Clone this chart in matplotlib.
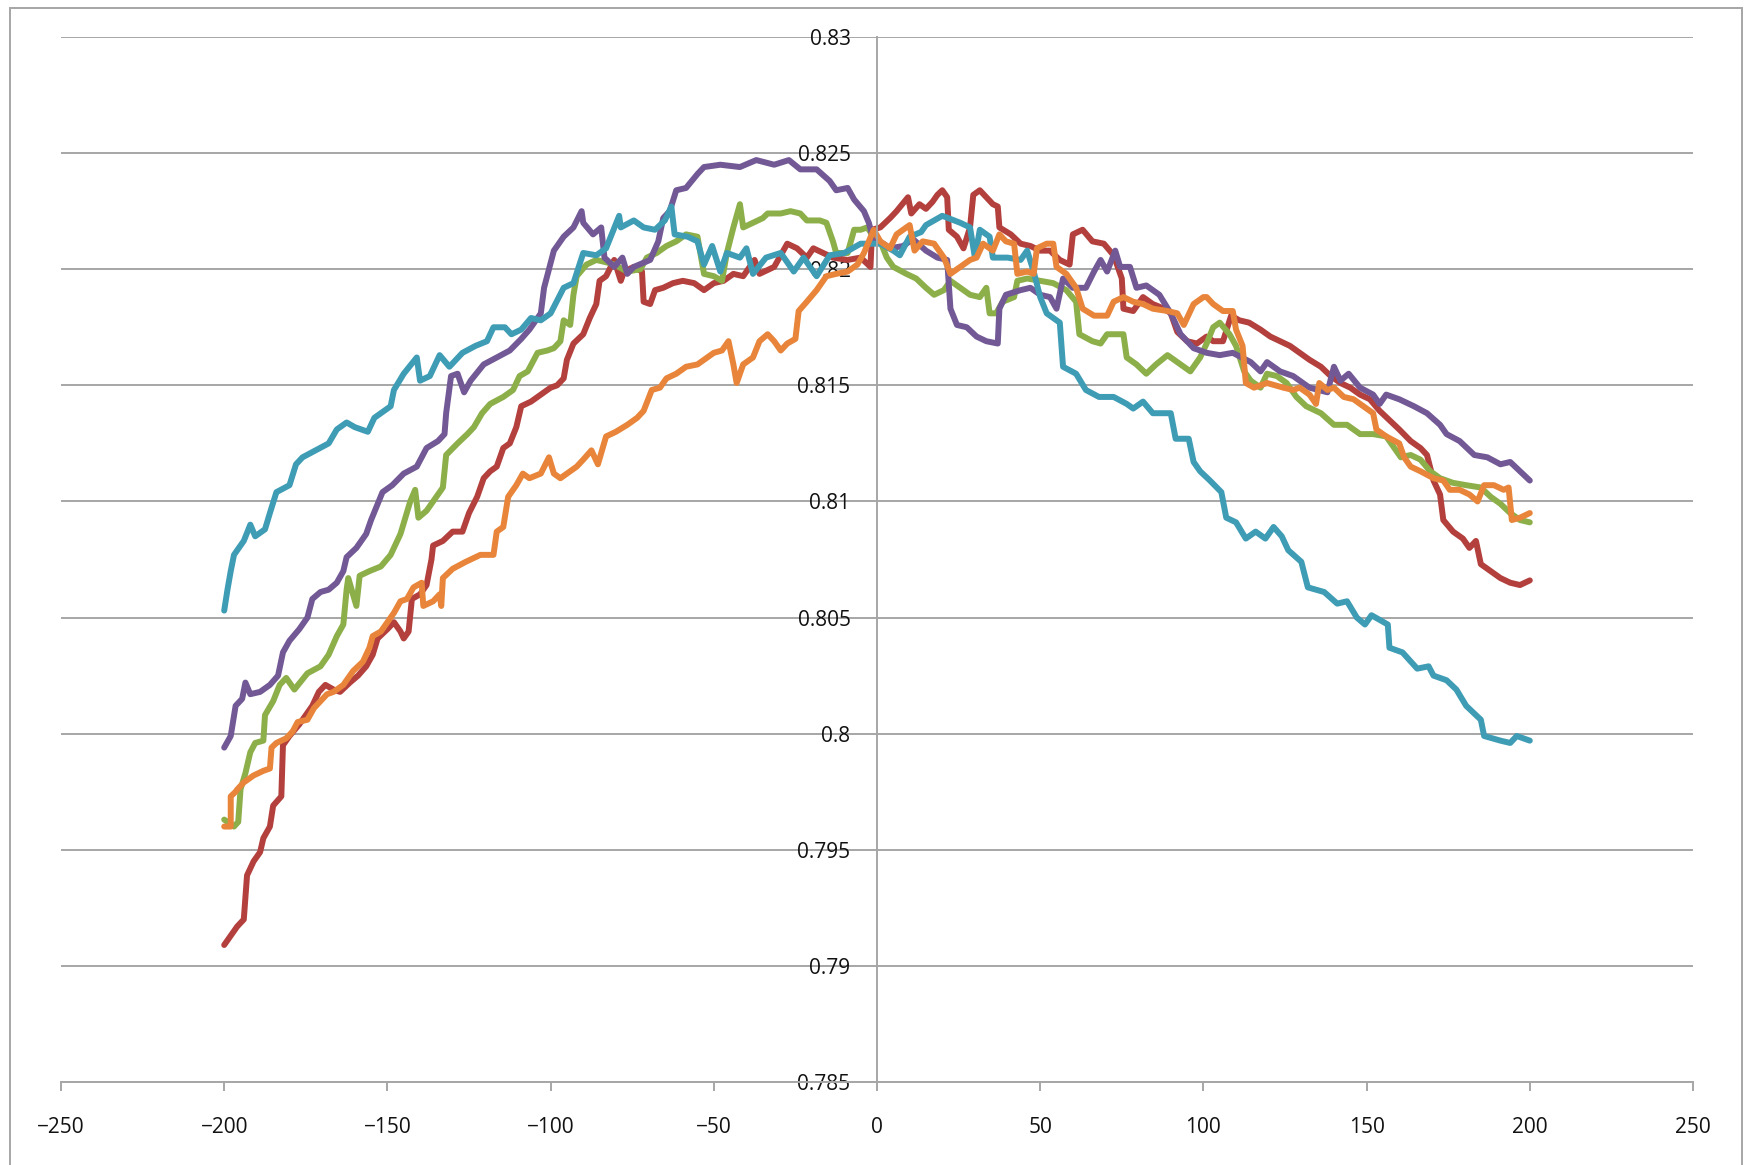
import matplotlib
matplotlib.use('Agg')
import matplotlib.pyplot as plt
from matplotlib.patches import Rectangle
from matplotlib.ticker import FuncFormatter

# points: (offset, value)
red_pts = [(-200, .7909), (-198, .7913), (-196, .7917), (-194, .7920), (-193, .7939), (-191, .7945),
           (-189, .7949), (-188, .7955), (-186, .7960), (-185, .7969), (-182.5, .7973), (-182, .7995),
           (-180, .7999), (-177, .8004), (-175, .8008), (-173, .8012), (-171, .8018), (-169, .8021),
           (-166.5, .8019), (-164.5, .8018), (-161.5, .8022), (-159, .8025), (-156.5, .8029), (-154.5, .8034),
           (-153, .8041), (-150, .8045), (-148, .8048), (-146, .8044), (-145, .8041), (-143.5, .8044),
           (-142.5, .8058), (-140, .8060), (-138, .8064), (-136.5, .8075), (-136, .8081), (-133, .8083),
           (-130, .8087), (-127, .8087), (-125, .8095), (-122.5, .8102), (-120.5, .8110), (-118.5, .8113),
           (-116.5, .8115), (-114.5, .8123), (-112.5, .8125), (-110.5, .8132), (-109, .8141), (-106, .8143),
           (-103, .8146), (-100, .8149), (-98, .8150), (-96, .8153), (-95, .8161), (-93, .8168),
           (-90, .8172), (-88, .8179), (-86, .8185), (-85, .8195), (-83, .8197), (-80.5, .8204),
           (-78.5, .8195), (-77.5, .8199), (-74.5, .8201), (-72, .8199), (-71.5, .8186), (-69.5, .8185),
           (-68, .8191), (-65.5, .8192), (-62.5, .8194), (-59.5, .8195), (-56, .8194), (-53, .8191),
           (-50, .8194), (-47, .8195), (-44, .8198), (-41, .8197), (-37.5, .8204), (-36, .8198),
           (-31.5, .8201), (-27.5, .8211), (-24.5, .8209), (-21.5, .8205), (-19.5, .8209), (-16.5, .8207),
           (-13.5, .8205), (-9, .8204), (-5, .8205), (-2, .8201), (-1.5, .8217), (1, .8218),
           (4, .8222), (6, .8225), (9.5, .8231), (10.5, .8224), (13, .8228), (15, .8226),
           (17, .8229), (18.5, .8232), (20, .8234), (21.5, .8231), (22, .8217), (24.5, .8214),
           (26.5, .8209), (28.5, .8218), (29.5, .8232), (31.5, .8234), (33.5, .8231), (35.5, .8228),
           (37, .8227), (37.5, .8218), (41, .8215), (44, .8211), (47, .8210), (50, .8208),
           (53, .8208), (56, .8204), (59, .8202), (60, .8215), (63, .8217), (66, .8212),
           (69.5, .8211), (72.5, .8206), (75, .8196), (75.5, .8183), (78.5, .8182), (81.5, .8188),
           (84.5, .8185), (88, .8183), (90, .8181), (92, .8173), (95, .8169), (98, .8168),
           (101, .8171), (103, .8169), (106, .8169), (108.5, .8180), (111, .8178), (114, .8177),
           (117.5, .8174), (120.5, .8171), (123.5, .8169), (126.5, .8167), (129.5, .8164), (132.5, .8161),
           (136, .8158), (139, .8154), (142, .8151), (145, .8149), (148, .8146), (151, .8144),
           (154, .8139), (157, .8135), (160, .8131), (163.5, .8126), (166.5, .8123), (168.5, .8120),
           (170.5, .8109), (172.5, .8103), (173.5, .8092), (176.5, .8087), (179.5, .8084), (181.5, .8080),
           (183.5, .8083), (185, .8073), (188, .8070), (191, .8067), (194, .8065), (197, .8064),
           (200, .8066)]

green_pts = [(-200, .7963), (-197, .7960), (-195.7, .7962), (-195, .7976), (-193.5, .7983), (-192, .7992),
             (-190.5, .7996), (-188, .7997), (-187.5, .8008), (-185, .8014), (-183, .8021), (-181, .8024),
             (-178.5, .8019), (-174.5, .8026), (-170.5, .8029), (-168, .8034), (-165.5, .8042), (-163.5, .8047),
             (-162.5, .8062), (-162, .8067), (-159.5, .8055), (-158.5, .8068), (-155.5, .8070), (-152, .8072),
             (-149, .8077), (-146, .8086), (-143, .8100), (-141.5, .8105), (-140.5, .8093), (-138, .8096),
             (-135, .8102), (-133, .8106), (-132, .8120), (-128.5, .8125), (-125.5, .8129), (-123.5, .8132),
             (-121, .8138), (-118.5, .8142), (-114.5, .8145), (-111.5, .8148), (-109.5, .8154), (-107, .8156),
             (-104, .8164), (-101, .8165), (-99, .8166), (-97, .8169), (-96, .8178), (-94, .8176),
             (-93, .8189), (-92, .8197), (-89, .8202), (-86, .8204), (-83, .8203), (-80.5, .8202),
             (-76.5, .8199), (-72.5, .8200), (-70.5, .8205), (-67.5, .8207), (-64.5, .8210), (-61.5, .8212),
             (-58.5, .8215), (-55, .8214), (-53, .8198), (-50, .8197), (-47.5, .8195), (-46, .8207),
             (-44, .8218), (-42, .8228), (-41, .8218), (-38, .8220), (-35, .8222), (-33.5, .8224),
             (-29.5, .8224), (-26.5, .8225), (-23.5, .8224), (-21.5, .8221), (-17.5, .8221), (-15.5, .8220),
             (-13.5, .8212), (-12.5, .8207), (-9, .8207), (-7, .8217), (-5, .8217), (-3, .8218),
             (-1, .8214), (1, .8212), (3, .8205), (5, .8201), (9, .8198), (12, .8196),
             (15, .8192), (17.5, .8189), (20.5, .8191), (22.5, .8195), (25.5, .8192), (28.5, .8189),
             (31.5, .8188), (33.5, .8192), (34.5, .8181), (36.5, .8181), (38.5, .8186), (42, .8188),
             (43, .8195), (46, .8196), (50, .8195), (54, .8194), (58, .8191), (61, .8186),
             (62, .8172), (66, .8169), (68.5, .8168), (70.5, .8172), (75.5, .8172), (76.5, .8162),
             (79.5, .8159), (82.5, .8155), (85.5, .8159), (89, .8163), (92, .8160), (96, .8156),
             (99, .8162), (101, .8168), (103, .8175), (105, .8177), (108, .8172), (110, .8167),
             (112.5, .8156), (114.5, .8152), (117.5, .8149), (119.5, .8155), (122.5, .8154), (125.5, .8151),
             (128.5, .8145), (131.5, .8141), (136, .8138), (140, .8133), (144, .8133), (148, .8129),
             (152, .8129), (156, .8128), (159, .8122), (160.5, .8119), (163.5, .8120), (166.5, .8118),
             (169.5, .8113), (172.5, .8110), (176.5, .8108), (180.5, .8107), (185, .8106), (188, .8102),
             (191, .8099), (194, .8095), (197, .8092), (200, .8091)]

purple_pts = [(-200, .7994), (-198, .7999), (-196.5, .8012), (-194.5, .8015), (-193.5, .8022), (-192, .8017),
              (-189, .8018), (-186, .8021), (-183.5, .8025), (-182, .8035), (-180, .8040), (-177, .8045),
              (-174.5, .8050), (-173, .8058), (-170.5, .8061), (-168, .8062), (-165.5, .8065), (-163.5, .8070),
              (-162.5, .8076), (-159.5, .8080), (-156.5, .8086), (-155, .8092), (-151.5, .8104), (-148.5, .8107),
              (-145, .8112), (-141, .8115), (-138, .8123), (-134.5, .8126), (-132.5, .8129), (-132, .8138),
              (-130.5, .8154), (-128.5, .8155), (-126.5, .8147), (-124.5, .8152), (-120.5, .8159), (-116.5, .8162),
              (-112.5, .8165), (-109, .8170), (-106.5, .8174), (-103, .8181), (-102, .8192), (-100.5, .8200),
              (-99, .8208), (-96, .8214), (-93, .8218), (-90.5, .8225), (-90, .8220), (-87, .8215),
              (-84.5, .8218), (-83.5, .8205), (-80.5, .8201), (-78, .8205), (-76.5, .8198), (-74.5, .8201),
              (-69.5, .8204), (-67, .8212), (-65.5, .8222), (-63.5, .8225), (-61.5, .8234), (-58.5, .8235),
              (-55, .8241), (-53, .8244), (-48, .8245), (-42, .8244), (-37, .8247), (-31.5, .8245),
              (-27, .8247), (-23.5, .8243), (-18.5, .8243), (-14.5, .8238), (-12.5, .8234), (-9, .8235),
              (-7, .8230), (-4, .8225), (-2.5, .8220), (-1, .8212), (2, .8211), (4, .8209),
              (8, .8210), (11, .8213), (15, .8208), (18.5, .8205), (21.5, .8204), (22.5, .8183),
              (24.5, .8176), (27.5, .8175), (30.5, .8171), (33.5, .8169), (37, .8168), (37.5, .8183),
              (39.5, .8189), (44, .8191), (47, .8192), (50, .8189), (53, .8188), (55, .8183),
              (57, .8196), (60, .8192), (64, .8192), (66.5, .8199), (68.5, .8204), (70.5, .8199),
              (73, .8208), (74.5, .8201), (77.5, .8201), (79.5, .8192), (82.5, .8193), (86.5, .8189),
              (90, .8181), (93, .8172), (97, .8166), (101, .8164), (105, .8163), (109, .8164),
              (114.5, .8160), (117.5, .8156), (119.5, .8160), (123.5, .8156), (127.5, .8154), (132.5, .8149),
              (138, .8147), (140, .8158), (142, .8152), (144.5, .8155), (148, .8149), (152, .8146),
              (154, .8142), (156, .8146), (160, .8144), (164.5, .8141), (168.5, .8138), (172.5, .8133),
              (174.5, .8129), (178.5, .8126), (183, .8120), (187, .8119), (191, .8116), (194, .8117),
              (197, .8113), (200, .8109)]

teal_pts = [(-200, .8053), (-199, .8062), (-198, .8070), (-197, .8077), (-194, .8083), (-192, .8090),
            (-190.5, .8085), (-187.5, .8088), (-186, .8095), (-184, .8104), (-180, .8107), (-178, .8116),
            (-176, .8119), (-172, .8122), (-168, .8125), (-165.5, .8131), (-162.5, .8134), (-160, .8132),
            (-156, .8130), (-154, .8136), (-149, .8141), (-148, .8148), (-145, .8155), (-141, .8162),
            (-140, .8152), (-137, .8154), (-134, .8163), (-131, .8158), (-127, .8164), (-123, .8167),
            (-119.5, .8169), (-117.5, .8175), (-114, .8175), (-112, .8172), (-109, .8174), (-106, .8179),
            (-103, .8178), (-100, .8181), (-96, .8192), (-93, .8194), (-90, .8207), (-86, .8206),
            (-83, .8209), (-79, .8223), (-78.5, .8218), (-74.5, .8221), (-71.5, .8218), (-68, .8217),
            (-65, .8221), (-63, .8227), (-62, .8215), (-58, .8214), (-55, .8212), (-53, .8202),
            (-50.5, .8210), (-48, .8199), (-46, .8207), (-42, .8205), (-40, .8209), (-38, .8198),
            (-34, .8205), (-29.5, .8207), (-25.5, .8199), (-22.5, .8205), (-18.5, .8197), (-14.5, .8206),
            (-10, .8207), (-5, .8211), (-2, .8211), (1, .8211), (5, .8208), (7, .8206),
            (10, .8214), (13.5, .8216), (15, .8219), (20, .8223), (25.5, .8220), (28.5, .8218),
            (30, .8205), (31.5, .8217), (34.5, .8214), (35.5, .8205), (40, .8205), (44, .8204),
            (46, .8208), (48, .8199), (50, .8188), (52, .8181), (56, .8177), (57, .8158),
            (61, .8155), (64, .8148), (68, .8145), (72.5, .8145), (76.5, .8142), (78.5, .8140),
            (81.5, .8143), (84.5, .8138), (90, .8138), (91.5, .8127), (95.5, .8127), (97, .8117),
            (99, .8113), (102, .8109), (105.5, .8104), (107, .8093), (110, .8091), (113, .8084),
            (116, .8087), (119, .8084), (121.5, .8089), (124, .8085), (126, .8079), (130, .8074),
            (132, .8063), (137, .8061), (141, .8056), (144, .8057), (147, .8050), (149.5, .8047),
            (151.5, .8051), (156.5, .8047), (157, .8037), (161, .8035), (165.5, .8028), (169, .8029),
            (170.5, .8025), (174.5, .8023), (177.5, .8019), (180.5, .8012), (185, .8006), (186, .7999),
            (191, .7997), (194, .7996), (196, .7999), (200, .7997)]

orange_pts = [(-200, .7960), (-198, .7960), (-198, .7973), (-196.5, .7975), (-196, .7976), (-194, .7979),
              (-191, .7982), (-188, .7984), (-186, .7985), (-185.5, .7994), (-184, .7996), (-181, .7998),
              (-179, .8001), (-177.5, .8005), (-174.5, .8006), (-172.5, .8011), (-170.5, .8014), (-168.5, .8017),
              (-166.5, .8018), (-163.5, .8021), (-160.5, .8027), (-157.5, .8031), (-155.5, .8037), (-154.5, .8042),
              (-152, .8044), (-150, .8048), (-148, .8052), (-146, .8057), (-144, .8058), (-142, .8063),
              (-139.5, .8065), (-139, .8055), (-136, .8057), (-134, .8060), (-133.5, .8055), (-133, .8067),
              (-130, .8071), (-126, .8074), (-121.5, .8077), (-117.5, .8077), (-116.5, .8087), (-114.5, .8089),
              (-113, .8102), (-110.5, .8107), (-108.5, .8112), (-106.5, .8110), (-103, .8112), (-100.5, .8119),
              (-99, .8112), (-97, .8110), (-95, .8112), (-92, .8115), (-90, .8118), (-87.5, .8122),
              (-85.5, .8116), (-83, .8128), (-80, .8130), (-76.5, .8133), (-73.5, .8136), (-71.5, .8139),
              (-69, .8148), (-66.5, .8149), (-64.5, .8153), (-61.5, .8155), (-58.5, .8158), (-55, .8159),
              (-52, .8162), (-50, .8164), (-47.5, .8165), (-45.5, .8169), (-44, .8159), (-43, .8151),
              (-41, .8159), (-38, .8162), (-36, .8169), (-33.5, .8172), (-31.5, .8169), (-29.5, .8165),
              (-27.5, .8168), (-25, .8170), (-24, .8182), (-21.5, .8186), (-18.5, .8191), (-15.5, .8197),
              (-12.5, .8198), (-9, .8199), (-6, .8202), (-4, .8207), (-2.5, .8212), (-1, .8217),
              (1, .8212), (4, .8209), (6, .8215), (8, .8217), (10, .8219), (11.5, .8208),
              (14, .8212), (17.5, .8211), (20.5, .8205), (22.5, .8198), (25.5, .8201), (28.5, .8204),
              (30.5, .8205), (32.5, .8211), (35.5, .8208), (37.5, .8215), (39.5, .8212), (42, .8211),
              (43, .8198), (46, .8199), (48, .8198), (49, .8209), (52, .8211), (54, .8211),
              (55, .8201), (58, .8198), (61, .8192), (63, .8183), (66.5, .8180), (70.5, .8180),
              (72.5, .8186), (75.5, .8188), (78.5, .8186), (81.5, .8185), (84.5, .8183), (89, .8182),
              (92, .8181), (94, .8176), (97, .8185), (100, .8188), (101, .8188), (103, .8185),
              (106, .8182), (109, .8182), (110, .8174), (112, .8167), (113, .8151), (115.5, .8149),
              (119.5, .8151), (124.5, .8149), (127.5, .8148), (129.5, .8149), (132.5, .8146), (134.5, .8142),
              (135.5, .8151), (138, .8148), (140, .8149), (143, .8145), (146, .8144), (149, .8141),
              (152, .8138), (153, .8131), (156, .8128), (160, .8125), (161.5, .8119), (163.5, .8115),
              (166.5, .8113), (170.5, .8110), (173.5, .8109), (175.5, .8105), (178.5, .8105), (181.5, .8103),
              (184, .8100), (186, .8107), (189, .8107), (192, .8105), (193.5, .8106), (194.5, .8092),
              (197, .8093), (200, .8095)]

x_ticks = [-250, -200, -150, -100, -50, 0, 50, 100, 150, 200, 250]
y_ticks = [0.785, 0.79, 0.795, 0.8, 0.805, 0.81, 0.815, 0.82, 0.825, 0.83]

series = [(red_pts, '#B3403D'), (green_pts, '#8CAF4A'), (purple_pts, '#725996'),
          (teal_pts, '#3E9CB5'), (orange_pts, '#E8853A')]

plt.rcParams['font.family'] = ['Open Sans', 'DejaVu Sans']
grey = '#a6a6a6'

fig = plt.figure(figsize=(17.48, 11.65), dpi=100)
ax = fig.add_axes([61 / 1748, 1 - 1082 / 1165, 1632 / 1748, 1045 / 1165])

for pts, col in series:
    xs = [p[0] for p in pts]
    ys = [p[1] for p in pts]
    ax.plot(xs, ys, color=col, lw=4.3, solid_joinstyle='round', solid_capstyle='round')

ax.set_xlim(-250, 250)
ax.set_ylim(0.785, 0.83)
ax.set_xticks(x_ticks)
ax.set_yticks(y_ticks)
ax.yaxis.set_major_formatter(FuncFormatter(lambda v, p: '%g' % round(v, 3)))

ax.yaxis.grid(True, color=grey, lw=1.4)
ax.set_axisbelow(True)
for s in ['top', 'right']:
    ax.spines[s].set_visible(False)
ax.spines['left'].set_position(('data', 0))
ax.spines['left'].set_color(grey)
ax.spines['left'].set_linewidth(1.4)
ax.spines['bottom'].set_color(grey)
ax.spines['bottom'].set_linewidth(1.4)

ax.tick_params(axis='y', length=0, pad=19, labelsize=15, labelcolor='#111111')
ax.tick_params(axis='x', direction='out', length=6.5, width=1.4, color=grey,
               pad=18.5, labelsize=15, labelcolor='#111111')

# outer chart frame like the spreadsheet chart area
fig.add_artist(Rectangle((10 / 1748, -0.05), 1732 / 1748, 1 - 8 / 1165 + 0.05,
                         transform=fig.transFigure, fill=False, ec=grey, lw=1.4))

plt.savefig('out.png', dpi=100)
